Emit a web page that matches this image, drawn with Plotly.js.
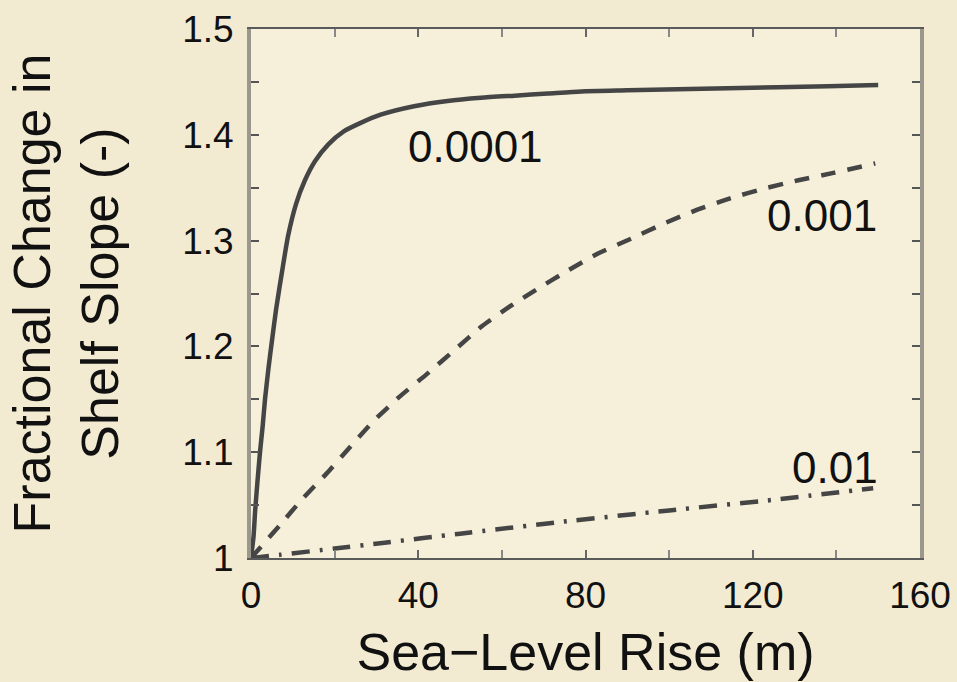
<!DOCTYPE html>
<html>
<head>
<meta charset="utf-8">
<script src="https://cdn.plot.ly/plotly-3.0.1.min.js"></script>
<style>
  html, body { margin: 0; padding: 0; background: #f3ebd1; }
  #chart { width: 957px; height: 682px; }
</style>
</head>
<body>
<div id="chart"></div>
<script>
// Sea-level rise (m) and fractional change in shelf slope for three parameter values
const x_0001 = [0, 0.6, 1.0, 1.5, 2.15, 2.8, 3.35, 4.2, 5.0, 6.0, 7.6, 8.9, 10.8, 12.9, 15.3, 18.5, 22.1, 26.1, 31, 39, 47, 55, 63, 71, 79, 90, 102, 114, 126, 138, 150];
const y_0001 = [1, 1.02, 1.045, 1.07, 1.10, 1.125, 1.15, 1.18, 1.205, 1.235, 1.275, 1.305, 1.335, 1.357, 1.375, 1.391, 1.403, 1.411, 1.419, 1.427, 1.432, 1.435, 1.437, 1.439, 1.441, 1.442, 1.443, 1.444, 1.445, 1.446, 1.447];

const x_001 = [0, 6.9, 12.1, 18.1, 23.7, 29.2, 35.4, 42.4, 48.8, 55.2, 62, 68.8, 75.9, 83.1, 91, 98.7, 106.6, 114.6, 122.6, 130.9, 139.3, 149.3];
const y_001 = [1, 1.031, 1.055, 1.080, 1.105, 1.129, 1.152, 1.175, 1.197, 1.219, 1.238, 1.255, 1.272, 1.288, 1.302, 1.316, 1.329, 1.340, 1.349, 1.357, 1.364, 1.373];

const x_01 = [0, 6.9, 20, 30.9, 50, 73.9, 100, 125, 148.8];
const y_01 = [1, 1.003, 1.009, 1.014, 1.023, 1.034, 1.045, 1.055, 1.066];

const seriesLabels = ['0.0001', '0.001', '0.01'];
const labelX = [53.8, 136.6, 139.7];
const labelY = [1.3885, 1.3233, 1.086];

const xTickVals = [0, 40, 80, 120, 160];
const xTickText = ['0', '40', '80', '120', '160'];
const yTickVals = [1, 1.1, 1.2, 1.3, 1.4, 1.5];
const yTickText = ['1', '1.1', '1.2', '1.3', '1.4', '1.5'];

const lineColor = '#454545';
const FONT = 'Liberation Sans, Arial, Helvetica, sans-serif';

const traces = [
  { x: x_0001, y: y_0001, name: seriesLabels[0], mode: 'lines', line: { color: lineColor, width: 4.5, shape: 'spline', smoothing: 0.6 } },
  { x: x_001, y: y_001, name: seriesLabels[1], mode: 'lines', line: { color: lineColor, width: 4.5, dash: '15px,12px', shape: 'spline', smoothing: 0.6 } },
  { x: x_01, y: y_01, name: seriesLabels[2], mode: 'lines', line: { color: lineColor, width: 4.5, dash: '18px,10px,3px,10px', shape: 'spline', smoothing: 0.6 } }
];

const annotations = seriesLabels.map((t, i) => ({
  x: labelX[i], y: labelY[i], xref: 'x', yref: 'y', text: t, showarrow: false,
  xanchor: 'center', yanchor: 'middle', font: { family: FONT, size: 44, color: '#111' }
}));

const layout = {
  width: 957, height: 682,
  margin: { l: 251, r: 37, t: 29, b: 124 },
  paper_bgcolor: '#f3ebd1',
  plot_bgcolor: '#f6f0da',
  showlegend: false,
  font: { family: FONT, color: '#111' },
  xaxis: {
    range: [0, 160], tickvals: xTickVals, ticktext: xTickText,
    ticks: 'inside', ticklen: 8, tickwidth: 2, tickcolor: '#666',
    minor: { dtick: 20, ticks: 'inside', ticklen: 8, tickwidth: 2, tickcolor: '#888' },
    showline: true, linecolor: '#5a5a5a', linewidth: 2, mirror: 'allticks',
    showgrid: false, zeroline: false,
    tickfont: { family: FONT, size: 37, color: '#111' },
    ticklabelstandoff: 4,
    title: { text: 'Sea\u2212Level Rise (m)', font: { family: FONT, size: 52, color: '#111' }, standoff: 18 }
  },
  yaxis: {
    range: [1, 1.5], tickvals: yTickVals, ticktext: yTickText,
    ticks: 'inside', ticklen: 8, tickwidth: 2, tickcolor: '#555',
    minor: { dtick: 0.05, ticks: 'inside', ticklen: 8, tickwidth: 2, tickcolor: '#555' },
    showline: true, linecolor: '#9a988c', linewidth: 4, mirror: 'allticks',
    showgrid: false, zeroline: false,
    tickfont: { family: FONT, size: 37, color: '#111' },
    ticklabelstandoff: 6,
    title: { text: 'Fractional Change in<br>Shelf Slope (-)', font: { family: FONT, size: 52, color: '#111' }, standoff: 48 }
  },
  annotations: annotations
};

Plotly.newPlot('chart', traces, layout, { staticPlot: true, displayModeBar: false });
</script>
</body>
</html>
